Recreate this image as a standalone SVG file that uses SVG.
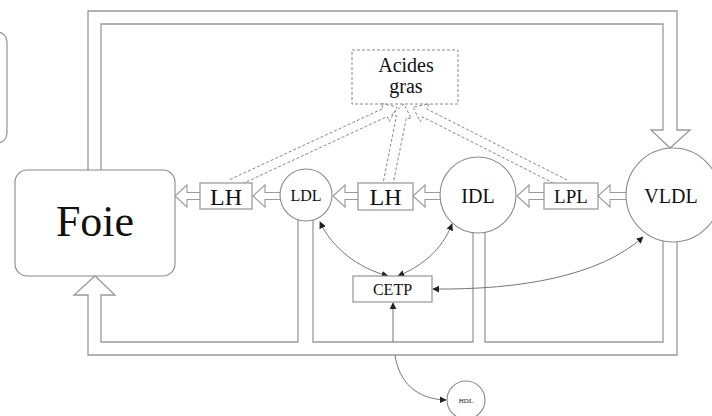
<svg xmlns="http://www.w3.org/2000/svg" width="712" height="416" viewBox="0 0 712 416">
<defs>
<marker id="ah" viewBox="0 0 10 10" refX="9" refY="5" markerWidth="7" markerHeight="7" markerUnits="userSpaceOnUse" orient="auto-start-reverse">
<path d="M0,0 L10,5 L0,10 z" fill="#222"/>
</marker>
<style>
.pipe{fill:none;stroke:#9a9a9a;stroke-width:1.3}
.blk{fill:#fff;stroke:#9a9a9a;stroke-width:1.1}
.node{fill:#fff;stroke:#8a8a8a;stroke-width:1.1}
.dash{fill:none;stroke:#888;stroke-width:1;stroke-dasharray:3 2}
.thin{fill:none;stroke:#777;stroke-width:1}
text{font-family:"Liberation Serif","Times New Roman",serif;fill:#111;text-anchor:middle}
</style>
</defs>
<rect x="-60" y="32" width="67" height="111" rx="10" class="node"/>
<g id="connectors">
<path class="pipe" d="M88,170 V11 H677 V130 H690 L670,148 L651,130 H663 V24 H101 V170"/>
<path class="pipe" d="M298,215 V342 H101 V295 H115 L95,276 L74,295 H88 V355 H677 V232"/>
<path class="pipe" d="M313,215 V342 H473 V225"/>
<path class="pipe" d="M485,225 V342 H663 V232"/>
<path class="blk" d="M200,192.5 H187 V185 L175,196 L187,207 V199.5 H200"/>
<path class="blk" d="M280,192.5 H265 V185 L253,196 L265,207 V199.5 H280"/>
<path class="blk" d="M358,192.5 H345 V185 L333,196 L345,207 V199.5 H358"/>
<path class="blk" d="M440,192.5 H425 V185 L413,196 L425,207 V199.5 H440"/>
<path class="blk" d="M544,192.5 H529 V185 L517,196 L529,207 V199.5 H544"/>
<path class="blk" d="M627,192.5 H610 V185 L598,196 L610,207 V199.5 H627"/>
<path class="dash" d="M232.9,188.1 L387.1,116.6 L389.4,121.6 L397,107 L381,103.4 L383.3,108.4 L229.1,179.9"/>
<path class="dash" d="M392.9,185 L406.35,117.7 L411.3,118.7 L404,104 L391.6,114.8 L396.5,115.8 L383.1,183"/>
<path class="dash" d="M567,180 L426.6,108.9 L429.1,104 L413,107 L420.1,121.8 L422.6,116.9 L563,188"/>
<path class="thin" marker-start="url(#ah)" marker-end="url(#ah)" d="M320,222 C332,248 358,268 388,276"/>
<path class="thin" marker-start="url(#ah)" marker-end="url(#ah)" d="M452,224 C442,250 422,266 398,276"/>
<path class="thin" marker-start="url(#ah)" marker-end="url(#ah)" d="M433,289 C520,290 600,276 643,237"/>
<path class="thin" marker-start="url(#ah)" d="M393,303 V342"/>
<path class="thin" marker-end="url(#ah)" d="M395,355 C399,382 416,399 446,400"/>
</g>
<g id="foie"><rect x="15" y="170" width="160" height="106" rx="12" class="node"/><text x="95" y="236" font-size="44">Foie</text></g>
<g id="acides"><rect x="352" y="50" width="106" height="54" class="dash"/><text x="406" y="72" font-size="20">Acides</text><text x="406" y="93" font-size="20">gras</text></g>
<g id="lh1"><rect x="200" y="183" width="52" height="26" class="node"/><text x="226" y="205" font-size="24">LH</text></g>
<g id="ldl"><circle cx="306" cy="195" r="26" class="node"/><text x="306" y="201" font-size="16">LDL</text></g>
<g id="lh2"><rect x="358" y="183" width="55" height="27" class="node"/><text x="385.5" y="205" font-size="24">LH</text></g>
<g id="idl"><circle cx="478" cy="195" r="38" class="node"/><text x="478" y="203" font-size="20">IDL</text></g>
<g id="lpl"><rect x="544" y="183" width="54" height="26" class="node"/><text x="571" y="203" font-size="19">LPL</text></g>
<g id="vldl"><circle cx="673" cy="195" r="47" class="node"/><text x="671" y="203" font-size="20">VLDL</text></g>
<g id="cetp"><rect x="353" y="276" width="79" height="26" class="node"/><text x="392.5" y="295" font-size="16">CETP</text></g>
<g id="hdl"><circle cx="466" cy="400" r="19" class="node"/><text x="466" y="402.5" font-size="7">HDL</text></g>
</svg>
